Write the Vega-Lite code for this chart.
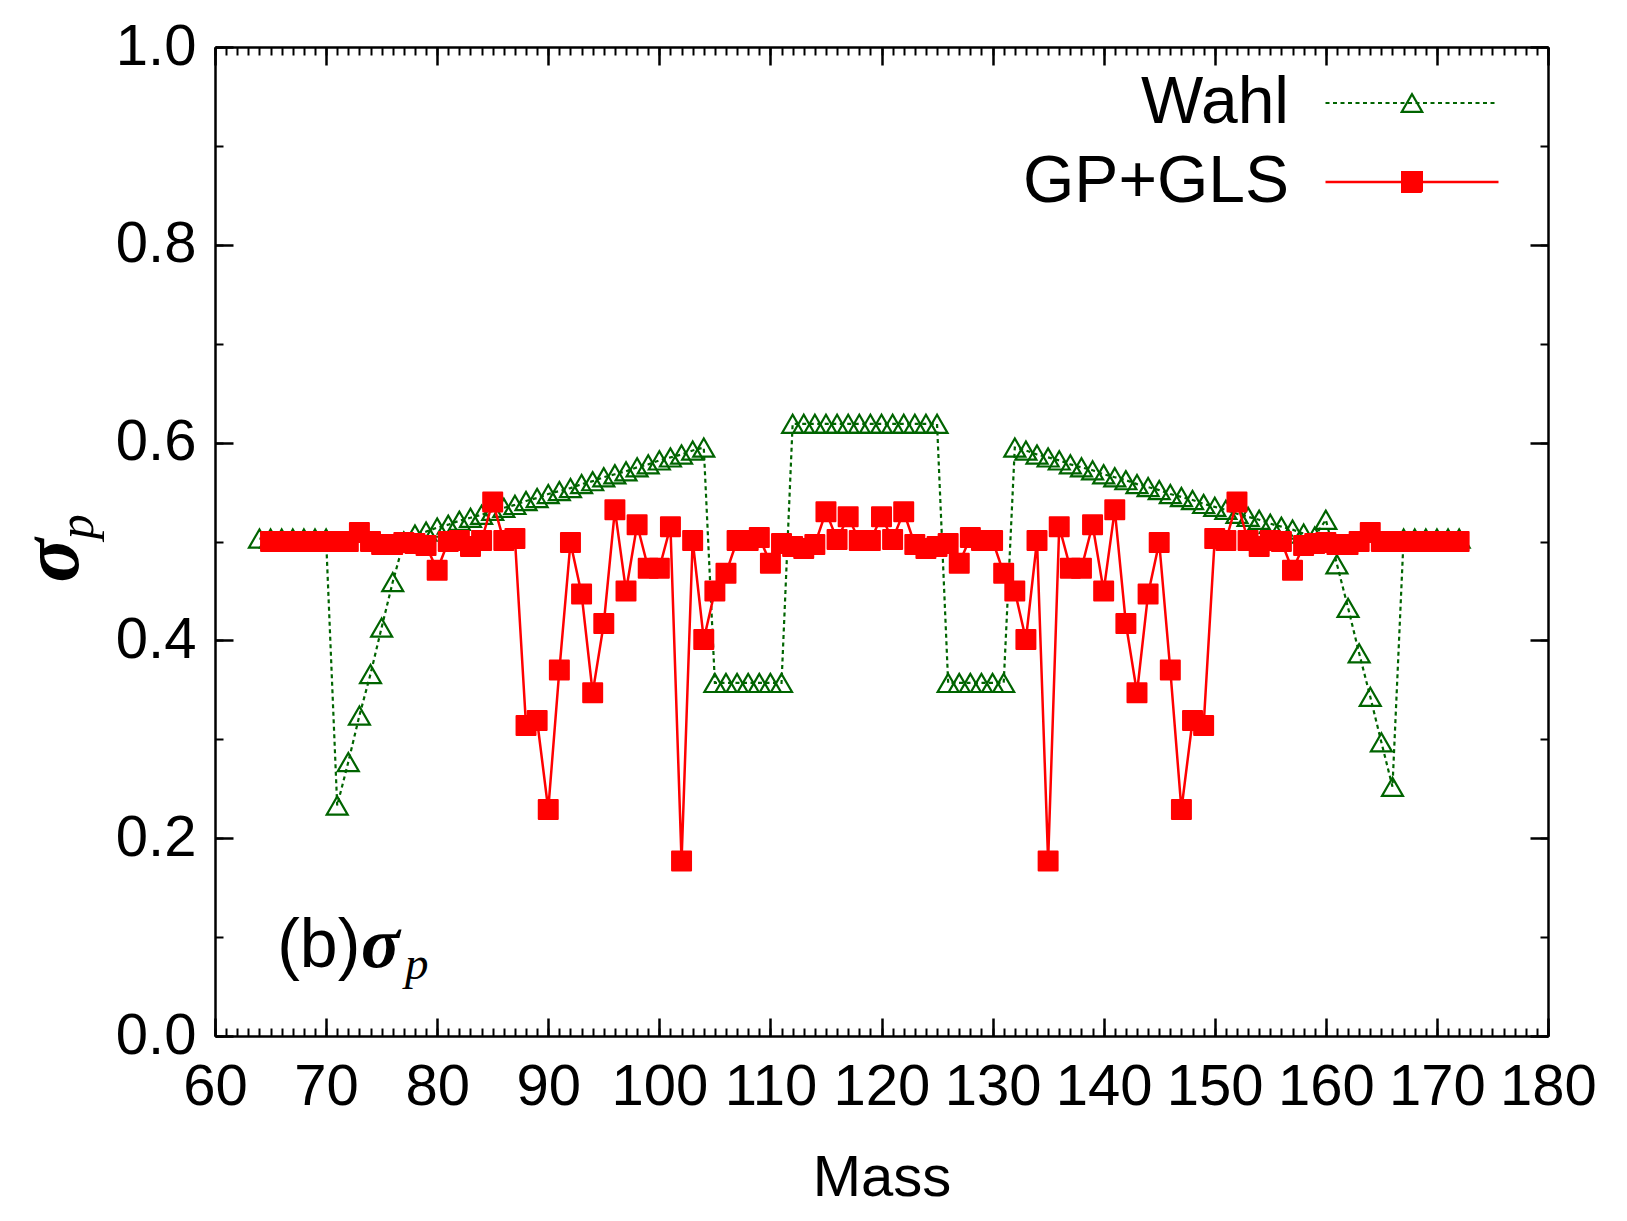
{
  "$schema": "https://vega.github.io/schema/vega-lite/v6.json",
  "width": 1333,
  "height": 989,
  "autosize": "none",
  "padding": {"left": 215, "top": 47, "right": 79, "bottom": 185},
  "background": "white",
  "config": {
    "view": {"stroke": null},
    "axis": {"labelFont": "Liberation Sans", "titleFont": "Liberation Sans", "labelColor": "black", "titleColor": "black", "domainColor": "black", "tickColor": "black", "grid": false}
  },
  "data": {"values": [
    {"mass":64,"sigma":0.503,"series":"Wahl"},{"mass":65,"sigma":0.503,"series":"Wahl"},{"mass":66,"sigma":0.503,"series":"Wahl"},{"mass":67,"sigma":0.503,"series":"Wahl"},{"mass":68,"sigma":0.503,"series":"Wahl"},{"mass":69,"sigma":0.503,"series":"Wahl"},{"mass":70,"sigma":0.503,"series":"Wahl"},{"mass":71,"sigma":0.233,"series":"Wahl"},{"mass":72,"sigma":0.277,"series":"Wahl"},{"mass":73,"sigma":0.324,"series":"Wahl"},{"mass":74,"sigma":0.366,"series":"Wahl"},{"mass":75,"sigma":0.413,"series":"Wahl"},{"mass":76,"sigma":0.459,"series":"Wahl"},{"mass":77,"sigma":0.500,"series":"Wahl"},
    {"mass":78,"sigma":0.507,"series":"Wahl"},{"mass":79,"sigma":0.510,"series":"Wahl"},{"mass":80,"sigma":0.514,"series":"Wahl"},{"mass":81,"sigma":0.517,"series":"Wahl"},{"mass":82,"sigma":0.521,"series":"Wahl"},{"mass":83,"sigma":0.524,"series":"Wahl"},{"mass":84,"sigma":0.527,"series":"Wahl"},{"mass":85,"sigma":0.531,"series":"Wahl"},{"mass":86,"sigma":0.534,"series":"Wahl"},{"mass":87,"sigma":0.537,"series":"Wahl"},{"mass":88,"sigma":0.541,"series":"Wahl"},{"mass":89,"sigma":0.544,"series":"Wahl"},{"mass":90,"sigma":0.548,"series":"Wahl"},{"mass":91,"sigma":0.551,"series":"Wahl"},{"mass":92,"sigma":0.554,"series":"Wahl"},{"mass":93,"sigma":0.558,"series":"Wahl"},{"mass":94,"sigma":0.561,"series":"Wahl"},{"mass":95,"sigma":0.565,"series":"Wahl"},{"mass":96,"sigma":0.568,"series":"Wahl"},{"mass":97,"sigma":0.571,"series":"Wahl"},{"mass":98,"sigma":0.575,"series":"Wahl"},{"mass":99,"sigma":0.578,"series":"Wahl"},{"mass":100,"sigma":0.582,"series":"Wahl"},{"mass":101,"sigma":0.585,"series":"Wahl"},{"mass":102,"sigma":0.588,"series":"Wahl"},{"mass":103,"sigma":0.592,"series":"Wahl"},{"mass":104,"sigma":0.595,"series":"Wahl"},
    {"mass":105,"sigma":0.357,"series":"Wahl"},{"mass":106,"sigma":0.357,"series":"Wahl"},{"mass":107,"sigma":0.357,"series":"Wahl"},{"mass":108,"sigma":0.357,"series":"Wahl"},{"mass":109,"sigma":0.357,"series":"Wahl"},{"mass":110,"sigma":0.357,"series":"Wahl"},{"mass":111,"sigma":0.357,"series":"Wahl"},
    {"mass":112,"sigma":0.619,"series":"Wahl"},{"mass":113,"sigma":0.619,"series":"Wahl"},{"mass":114,"sigma":0.619,"series":"Wahl"},{"mass":115,"sigma":0.619,"series":"Wahl"},{"mass":116,"sigma":0.619,"series":"Wahl"},{"mass":117,"sigma":0.619,"series":"Wahl"},{"mass":118,"sigma":0.619,"series":"Wahl"},{"mass":119,"sigma":0.619,"series":"Wahl"},{"mass":120,"sigma":0.619,"series":"Wahl"},{"mass":121,"sigma":0.619,"series":"Wahl"},{"mass":122,"sigma":0.619,"series":"Wahl"},{"mass":123,"sigma":0.619,"series":"Wahl"},{"mass":124,"sigma":0.619,"series":"Wahl"},{"mass":125,"sigma":0.619,"series":"Wahl"},
    {"mass":126,"sigma":0.357,"series":"Wahl"},{"mass":127,"sigma":0.357,"series":"Wahl"},{"mass":128,"sigma":0.357,"series":"Wahl"},{"mass":129,"sigma":0.357,"series":"Wahl"},{"mass":130,"sigma":0.357,"series":"Wahl"},{"mass":131,"sigma":0.357,"series":"Wahl"},
    {"mass":132,"sigma":0.595,"series":"Wahl"},{"mass":133,"sigma":0.592,"series":"Wahl"},{"mass":134,"sigma":0.588,"series":"Wahl"},{"mass":135,"sigma":0.585,"series":"Wahl"},{"mass":136,"sigma":0.582,"series":"Wahl"},{"mass":137,"sigma":0.578,"series":"Wahl"},{"mass":138,"sigma":0.575,"series":"Wahl"},{"mass":139,"sigma":0.572,"series":"Wahl"},{"mass":140,"sigma":0.568,"series":"Wahl"},{"mass":141,"sigma":0.565,"series":"Wahl"},{"mass":142,"sigma":0.562,"series":"Wahl"},{"mass":143,"sigma":0.558,"series":"Wahl"},{"mass":144,"sigma":0.555,"series":"Wahl"},{"mass":145,"sigma":0.552,"series":"Wahl"},{"mass":146,"sigma":0.548,"series":"Wahl"},{"mass":147,"sigma":0.545,"series":"Wahl"},{"mass":148,"sigma":0.542,"series":"Wahl"},{"mass":149,"sigma":0.538,"series":"Wahl"},{"mass":150,"sigma":0.535,"series":"Wahl"},{"mass":151,"sigma":0.532,"series":"Wahl"},{"mass":152,"sigma":0.528,"series":"Wahl"},{"mass":153,"sigma":0.525,"series":"Wahl"},{"mass":154,"sigma":0.522,"series":"Wahl"},{"mass":155,"sigma":0.518,"series":"Wahl"},{"mass":156,"sigma":0.515,"series":"Wahl"},{"mass":157,"sigma":0.512,"series":"Wahl"},{"mass":158,"sigma":0.508,"series":"Wahl"},{"mass":159,"sigma":0.505,"series":"Wahl"},
    {"mass":160,"sigma":0.522,"series":"Wahl"},{"mass":161,"sigma":0.477,"series":"Wahl"},{"mass":162,"sigma":0.433,"series":"Wahl"},{"mass":163,"sigma":0.387,"series":"Wahl"},{"mass":164,"sigma":0.343,"series":"Wahl"},{"mass":165,"sigma":0.297,"series":"Wahl"},{"mass":166,"sigma":0.252,"series":"Wahl"},
    {"mass":167,"sigma":0.503,"series":"Wahl"},{"mass":168,"sigma":0.503,"series":"Wahl"},{"mass":169,"sigma":0.503,"series":"Wahl"},{"mass":170,"sigma":0.503,"series":"Wahl"},{"mass":171,"sigma":0.503,"series":"Wahl"},{"mass":172,"sigma":0.503,"series":"Wahl"},

    {"mass":65,"sigma":0.500,"series":"GP+GLS"},{"mass":66,"sigma":0.500,"series":"GP+GLS"},{"mass":67,"sigma":0.500,"series":"GP+GLS"},{"mass":68,"sigma":0.500,"series":"GP+GLS"},{"mass":69,"sigma":0.500,"series":"GP+GLS"},{"mass":70,"sigma":0.500,"series":"GP+GLS"},{"mass":71,"sigma":0.500,"series":"GP+GLS"},{"mass":72,"sigma":0.500,"series":"GP+GLS"},{"mass":73,"sigma":0.509,"series":"GP+GLS"},{"mass":74,"sigma":0.500,"series":"GP+GLS"},{"mass":75,"sigma":0.497,"series":"GP+GLS"},{"mass":76,"sigma":0.497,"series":"GP+GLS"},{"mass":77,"sigma":0.499,"series":"GP+GLS"},{"mass":78,"sigma":0.498,"series":"GP+GLS"},{"mass":79,"sigma":0.496,"series":"GP+GLS"},{"mass":80,"sigma":0.471,"series":"GP+GLS"},{"mass":81,"sigma":0.500,"series":"GP+GLS"},{"mass":82,"sigma":0.501,"series":"GP+GLS"},{"mass":83,"sigma":0.495,"series":"GP+GLS"},{"mass":84,"sigma":0.501,"series":"GP+GLS"},{"mass":85,"sigma":0.540,"series":"GP+GLS"},{"mass":86,"sigma":0.501,"series":"GP+GLS"},{"mass":87,"sigma":0.503,"series":"GP+GLS"},{"mass":88,"sigma":0.314,"series":"GP+GLS"},{"mass":89,"sigma":0.319,"series":"GP+GLS"},{"mass":90,"sigma":0.229,"series":"GP+GLS"},{"mass":91,"sigma":0.370,"series":"GP+GLS"},{"mass":92,"sigma":0.499,"series":"GP+GLS"},{"mass":93,"sigma":0.447,"series":"GP+GLS"},{"mass":94,"sigma":0.347,"series":"GP+GLS"},{"mass":95,"sigma":0.417,"series":"GP+GLS"},{"mass":96,"sigma":0.532,"series":"GP+GLS"},{"mass":97,"sigma":0.450,"series":"GP+GLS"},{"mass":98,"sigma":0.517,"series":"GP+GLS"},{"mass":99,"sigma":0.473,"series":"GP+GLS"},{"mass":100,"sigma":0.473,"series":"GP+GLS"},{"mass":101,"sigma":0.515,"series":"GP+GLS"},{"mass":102,"sigma":0.177,"series":"GP+GLS"},{"mass":103,"sigma":0.501,"series":"GP+GLS"},{"mass":104,"sigma":0.401,"series":"GP+GLS"},{"mass":105,"sigma":0.450,"series":"GP+GLS"},{"mass":106,"sigma":0.468,"series":"GP+GLS"},{"mass":107,"sigma":0.501,"series":"GP+GLS"},{"mass":108,"sigma":0.501,"series":"GP+GLS"},{"mass":109,"sigma":0.504,"series":"GP+GLS"},{"mass":110,"sigma":0.478,"series":"GP+GLS"},{"mass":111,"sigma":0.498,"series":"GP+GLS"},{"mass":112,"sigma":0.495,"series":"GP+GLS"},{"mass":113,"sigma":0.493,"series":"GP+GLS"},{"mass":114,"sigma":0.497,"series":"GP+GLS"},{"mass":115,"sigma":0.530,"series":"GP+GLS"},{"mass":116,"sigma":0.502,"series":"GP+GLS"},{"mass":117,"sigma":0.525,"series":"GP+GLS"},{"mass":118,"sigma":0.501,"series":"GP+GLS"},{"mass":119,"sigma":0.501,"series":"GP+GLS"},{"mass":120,"sigma":0.525,"series":"GP+GLS"},{"mass":121,"sigma":0.502,"series":"GP+GLS"},{"mass":122,"sigma":0.530,"series":"GP+GLS"},{"mass":123,"sigma":0.497,"series":"GP+GLS"},{"mass":124,"sigma":0.493,"series":"GP+GLS"},{"mass":125,"sigma":0.495,"series":"GP+GLS"},{"mass":126,"sigma":0.498,"series":"GP+GLS"},{"mass":127,"sigma":0.478,"series":"GP+GLS"},{"mass":128,"sigma":0.504,"series":"GP+GLS"},{"mass":129,"sigma":0.501,"series":"GP+GLS"},{"mass":130,"sigma":0.501,"series":"GP+GLS"},{"mass":131,"sigma":0.468,"series":"GP+GLS"},{"mass":132,"sigma":0.450,"series":"GP+GLS"},{"mass":133,"sigma":0.401,"series":"GP+GLS"},{"mass":134,"sigma":0.501,"series":"GP+GLS"},{"mass":135,"sigma":0.177,"series":"GP+GLS"},{"mass":136,"sigma":0.515,"series":"GP+GLS"},{"mass":137,"sigma":0.473,"series":"GP+GLS"},{"mass":138,"sigma":0.473,"series":"GP+GLS"},{"mass":139,"sigma":0.517,"series":"GP+GLS"},{"mass":140,"sigma":0.450,"series":"GP+GLS"},{"mass":141,"sigma":0.532,"series":"GP+GLS"},{"mass":142,"sigma":0.417,"series":"GP+GLS"},{"mass":143,"sigma":0.347,"series":"GP+GLS"},{"mass":144,"sigma":0.447,"series":"GP+GLS"},{"mass":145,"sigma":0.499,"series":"GP+GLS"},{"mass":146,"sigma":0.370,"series":"GP+GLS"},{"mass":147,"sigma":0.229,"series":"GP+GLS"},{"mass":148,"sigma":0.319,"series":"GP+GLS"},{"mass":149,"sigma":0.314,"series":"GP+GLS"},{"mass":150,"sigma":0.503,"series":"GP+GLS"},{"mass":151,"sigma":0.501,"series":"GP+GLS"},{"mass":152,"sigma":0.540,"series":"GP+GLS"},{"mass":153,"sigma":0.501,"series":"GP+GLS"},{"mass":154,"sigma":0.495,"series":"GP+GLS"},{"mass":155,"sigma":0.501,"series":"GP+GLS"},{"mass":156,"sigma":0.500,"series":"GP+GLS"},{"mass":157,"sigma":0.471,"series":"GP+GLS"},{"mass":158,"sigma":0.496,"series":"GP+GLS"},{"mass":159,"sigma":0.498,"series":"GP+GLS"},{"mass":160,"sigma":0.499,"series":"GP+GLS"},{"mass":161,"sigma":0.497,"series":"GP+GLS"},{"mass":162,"sigma":0.497,"series":"GP+GLS"},{"mass":163,"sigma":0.500,"series":"GP+GLS"},{"mass":164,"sigma":0.509,"series":"GP+GLS"},{"mass":165,"sigma":0.500,"series":"GP+GLS"},{"mass":166,"sigma":0.500,"series":"GP+GLS"},{"mass":167,"sigma":0.500,"series":"GP+GLS"},{"mass":168,"sigma":0.500,"series":"GP+GLS"},{"mass":169,"sigma":0.500,"series":"GP+GLS"},{"mass":170,"sigma":0.500,"series":"GP+GLS"},{"mass":171,"sigma":0.500,"series":"GP+GLS"},{"mass":172,"sigma":0.500,"series":"GP+GLS"}
  ]},
  "resolve": {"axis": {"x": "independent", "y": "independent"}},
  "layer": [
    {
      "transform": [{"filter": "datum.series === 'Wahl'"}],
      "mark": {"type": "line", "strokeDash": [4, 3.5], "strokeWidth": 2.2},
      "encoding": {
        "x": {"field": "mass", "type": "quantitative", "scale": {"domain": [60, 180], "nice": false, "zero": false},
          "axis": {"orient": "bottom", "values": [60,70,80,90,100,110,120,130,140,150,160,170,180], "format": "d", "labelFontSize": 58, "labelPadding": 40, "labelFlush": false, "labelOverlap": false, "tickSize": -18, "tickWidth": 2.5, "domainWidth": 2.5,
            "title": "Mass", "titleFontSize": 58, "titleFontWeight": "normal", "titleBaseline": "alphabetic", "titleY": 159}},
        "y": {"field": "sigma", "type": "quantitative", "scale": {"domain": [0, 1], "nice": false, "zero": false},
          "axis": {"orient": "left", "values": [0,0.2,0.4,0.6,0.8,1], "format": ".1f", "labelFontSize": 58, "labelPadding": 37, "labelFlush": false, "labelOverlap": false, "tickSize": -18, "tickWidth": 2.5, "domainWidth": 2.5,
            "title": "σ", "titleFont": "Liberation Serif", "titleFontStyle": "italic", "titleFontWeight": "bold", "titleFontSize": 82, "titleAngle": 270, "titleAlign": "center", "titleBaseline": "alphabetic", "titleX": -138, "titleY": 513}},
        "color": {"field": "series", "type": "nominal", "scale": {"domain": ["Wahl", "GP+GLS"], "range": ["#006400", "#ff0000"]},
          "legend": {"orient": "none", "legendX": 1164, "legendY": 23, "title": null, "labelFont": "Liberation Sans", "labelFontSize": 66, "labelColor": "black", "labelAlign": "right", "labelBaseline": "middle", "labelOffset": -156, "labelLimit": 0, "rowPadding": 13, "padding": 0, "symbolSize": 400, "symbolStrokeWidth": 2,
            "encode": {"symbols": {"update": {
              "shape": {"signal": "datum.value === 'Wahl' ? 'M-8.65,0h0.4M-7.9,0h0.4M-7.15,0h0.4M-6.4,0h0.4M-5.65,0h0.4M-4.9,0h0.4M-4.15,0h0.4M-3.4,0h0.4M-2.65,0h0.4M-1.9,0h0.4M-1.15,0h0.4M-0.4,0h0.4M0.35,0h0.4M1.1,0h0.4M1.85,0h0.4M2.6,0h0.4M3.35,0h0.4M4.1,0h0.4M4.85,0h0.4M5.6,0h0.4M6.35,0h0.4M7.1,0h0.4M7.85,0h0.4M0,-0.887L1.025,0.887L-1.025,0.887Z' : 'M-8.65,0H8.65M-0.975,-0.975H0.975V0.975H-0.975Z'"},
              "fill": {"signal": "datum.value === 'Wahl' ? 'transparent' : '#ff0000'"},
              "stroke": {"signal": "datum.value === 'Wahl' ? '#006400' : '#ff0000'"},
              "strokeWidth": {"signal": "datum.value === 'Wahl' ? 2.2 : 2.5"},
              "strokeDash": {"value": [1, 0]},
              "size": {"value": 400},
              "opacity": {"value": 1}
            }}}}}
      }
    },
    {
      "transform": [{"filter": "datum.series === 'Wahl'"}],
      "mark": {"type": "point", "shape": "triangle-up", "filled": false, "color": "#006400", "strokeWidth": 2.2, "size": 440, "opacity": 1},
      "encoding": {
        "x": {"field": "mass", "type": "quantitative", "scale": {"domain": [60, 180], "nice": false, "zero": false},
          "axis": {"orient": "bottom", "values": [60,61,62,63,64,65,66,67,68,69,70,71,72,73,74,75,76,77,78,79,80,81,82,83,84,85,86,87,88,89,90,91,92,93,94,95,96,97,98,99,100,101,102,103,104,105,106,107,108,109,110,111,112,113,114,115,116,117,118,119,120,121,122,123,124,125,126,127,128,129,130,131,132,133,134,135,136,137,138,139,140,141,142,143,144,145,146,147,148,149,150,151,152,153,154,155,156,157,158,159,160,161,162,163,164,165,166,167,168,169,170,171,172,173,174,175,176,177,178,179,180], "labels": false, "domain": false, "tickSize": -8, "tickWidth": 2, "title": null}},
        "y": {"field": "sigma", "type": "quantitative", "scale": {"domain": [0, 1], "nice": false, "zero": false},
          "axis": {"orient": "left", "values": [0,0.1,0.2,0.3,0.4,0.5,0.6,0.7,0.8,0.9,1], "labels": false, "domain": false, "tickSize": -8, "tickWidth": 2, "title": null}}
      }
    },
    {
      "transform": [{"filter": "datum.series === 'GP+GLS'"}],
      "mark": {"type": "line", "color": "#ff0000", "strokeWidth": 2.5},
      "encoding": {
        "x": {"field": "mass", "type": "quantitative", "scale": {"domain": [60, 180], "nice": false, "zero": false},
          "axis": {"orient": "top", "values": [60,70,80,90,100,110,120,130,140,150,160,170,180], "labels": false, "tickSize": -18, "tickWidth": 2.5, "domainWidth": 2.5, "title": null}},
        "y": {"field": "sigma", "type": "quantitative", "scale": {"domain": [0, 1], "nice": false, "zero": false},
          "axis": {"orient": "right", "values": [0,0.2,0.4,0.6,0.8,1], "labels": false, "tickSize": -18, "tickWidth": 2.5, "domainWidth": 2.5, "title": null}}
      }
    },
    {
      "transform": [{"filter": "datum.series === 'GP+GLS'"}],
      "mark": {"type": "point", "shape": "square", "filled": true, "color": "#ff0000", "stroke": "#ff0000", "strokeWidth": 2, "strokeJoin": "round", "size": 360, "opacity": 1},
      "encoding": {
        "x": {"field": "mass", "type": "quantitative", "scale": {"domain": [60, 180], "nice": false, "zero": false},
          "axis": {"orient": "top", "values": [60,61,62,63,64,65,66,67,68,69,70,71,72,73,74,75,76,77,78,79,80,81,82,83,84,85,86,87,88,89,90,91,92,93,94,95,96,97,98,99,100,101,102,103,104,105,106,107,108,109,110,111,112,113,114,115,116,117,118,119,120,121,122,123,124,125,126,127,128,129,130,131,132,133,134,135,136,137,138,139,140,141,142,143,144,145,146,147,148,149,150,151,152,153,154,155,156,157,158,159,160,161,162,163,164,165,166,167,168,169,170,171,172,173,174,175,176,177,178,179,180], "labels": false, "domain": false, "tickSize": -8, "tickWidth": 2, "title": null}},
        "y": {"field": "sigma", "type": "quantitative", "scale": {"domain": [0, 1], "nice": false, "zero": false},
          "axis": {"orient": "right", "values": [0,0.1,0.2,0.3,0.4,0.5,0.6,0.7,0.8,0.9,1], "labels": false, "domain": false, "tickSize": -8, "tickWidth": 2, "title": null}}
      }
    },
    {
      "data": {"values": [{"note": "(b)"}]},
      "mark": {"type": "text", "font": "Liberation Sans", "fontSize": 68, "align": "left", "baseline": "alphabetic", "color": "black"},
      "encoding": {
        "x": {"datum": 65.6, "type": "quantitative", "axis": null},
        "y": {"datum": 0.0696, "type": "quantitative", "axis": null},
        "text": {"field": "note"}
      }
    },
    {
      "data": {"values": [{"note": "σ"}]},
      "mark": {"type": "text", "font": "Liberation Serif", "fontStyle": "italic", "fontWeight": "bold", "fontSize": 72, "align": "left", "baseline": "alphabetic", "color": "black"},
      "encoding": {
        "x": {"datum": 73.15, "type": "quantitative", "axis": null},
        "y": {"datum": 0.0696, "type": "quantitative", "axis": null},
        "text": {"field": "note"}
      }
    },
    {
      "data": {"values": [{"note": "p"}]},
      "mark": {"type": "text", "font": "Liberation Serif", "fontStyle": "italic", "fontSize": 47, "align": "left", "baseline": "alphabetic", "color": "black"},
      "encoding": {
        "x": {"datum": 77.1, "type": "quantitative", "axis": null},
        "y": {"datum": 0.058, "type": "quantitative", "axis": null},
        "text": {"field": "note"}
      }
    },
    {
      "data": {"values": [{"note": "p"}]},
      "mark": {"type": "text", "font": "Liberation Serif", "fontStyle": "italic", "fontSize": 50, "align": "center", "baseline": "alphabetic", "angle": 270, "color": "black"},
      "encoding": {
        "x": {"datum": 49.04, "type": "quantitative", "axis": null},
        "y": {"datum": 0.5148, "type": "quantitative", "axis": null},
        "text": {"field": "note"}
      }
    }
  ]
}
